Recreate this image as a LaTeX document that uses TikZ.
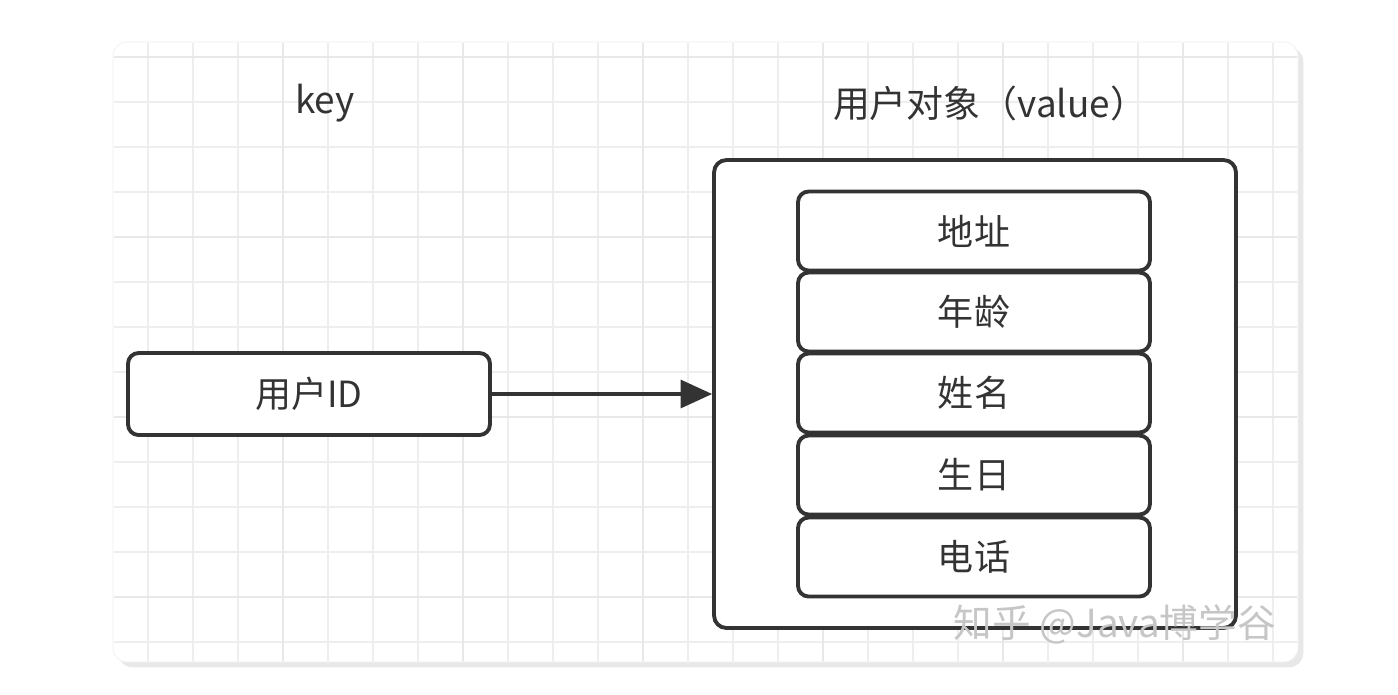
\documentclass[tikz,border=0pt]{standalone}
\usepackage{fontspec}
\setmainfont{Noto Sans CJK SC}
\usepackage{xcolor}
\definecolor{inkgray}{RGB}{51,51,51}
\definecolor{gridgray}{RGB}{238,238,238}
\usetikzlibrary{
  arrows.meta,
  positioning,
  shadows
}

\begin{document}
\begin{tikzpicture}[
    x=0.02cm, y=-0.02cm,
    card/.style={
      rounded corners=8pt, fill=white, draw=gray!12,
      drop shadow={shadow xshift=3pt, shadow yshift=-3pt, opacity=0.25, fill=gray!70},
    },
    box/.style={
      rectangle, rounded corners=6pt, draw=inkgray, line width=2.2pt,
      fill=white, font=\fontsize{20.5}{24}\selectfont, text=inkgray,
    },
    field/.style={box, minimum width=7.04cm, minimum height=1.58cm},
    heading/.style={font=\fontsize{21}{25}\selectfont, text=inkgray},
    >={Triangle[length=18pt, width=16pt]}
  ]

  %% --- page and card ---
  \useasboundingbox (0,0) rectangle (1398,694);
  \fill[white] (0,0) rectangle (1398,694);
  \path[card] (113,42) rectangle (1298,662);

  %% --- grid ---
  \begin{scope}
    \clip[rounded corners=8pt] (114,43) rectangle (1297,661);
    \foreach \x in {148,193,...,1290}
      \draw[gridgray, line width=0.6pt] (\x,42) -- (\x,662);
    \foreach \y in {57,102,...,660}
      \draw[gridgray, line width=0.6pt] (113,\y) -- (1298,\y);
    \foreach \x in {283,463,...,1290}
      \draw[gray!18, line width=0.8pt] (\x,42) -- (\x,662);
    \foreach \y in {57,237,...,660}
      \draw[gray!18, line width=0.8pt] (113,\y) -- (1298,\y);
  \end{scope}

  %% --- headings ---
  \node[heading] (keyhead) at (325,103) {key};
  \node[heading] (valhead) at (990,103) {用户对象（value）};

  %% --- key ---
  \node[box, minimum width=7.24cm, minimum height=1.64cm] (uid) at (309,394) {用户ID};

  %% --- value object ---
  \node[box, minimum width=10.44cm, minimum height=9.36cm, rounded corners=7pt] (obj) at (975,394) {};
  \foreach \name/\txt/\y in {addr/地址/231, age/年龄/312, uname/姓名/393, bday/生日/475, tel/电话/557}
    \node[field] (\name) at (974,\y) {\txt};

  %% --- arrow ---
  \draw[->, line width=1.8pt, inkgray] (uid.east) -- (obj.west);

  %% --- watermark ---
  \node[font=\fontsize{22}{26}\selectfont, text=gray!45, anchor=east] (mark) at (1282,624) {知乎 @Java博学谷};
\end{tikzpicture}
\end{document}
